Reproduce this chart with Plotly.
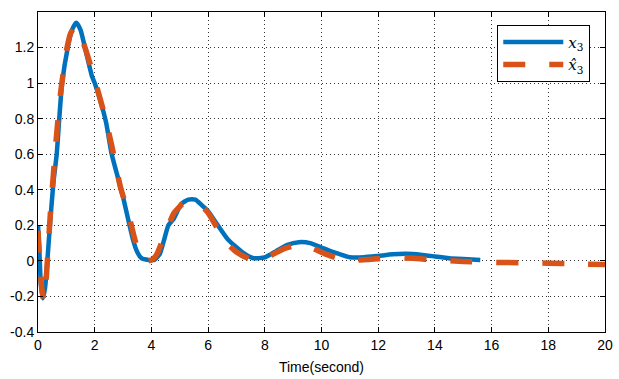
import plotly.graph_objects as go

# x3 (true state)
t_x3 = [0, 0.05, 0.1, 0.17, 0.25, 0.33, 0.42, 0.55, 0.66, 0.75, 0.85, 1.05, 1.2, 1.35, 1.5, 1.7,
        1.9, 2.0, 2.2, 2.4, 2.6, 2.8, 2.9, 3.0, 3.2, 3.35, 3.5, 3.65, 3.9, 4.1, 4.3, 4.45, 4.6,
        4.8, 5.05, 5.3, 5.55, 5.8, 6.0, 6.3, 6.7, 7.2, 7.6, 8.0, 8.4, 8.8, 9.2, 9.6, 10.0, 10.5,
        11.0, 11.5, 12.0, 12.5, 13.0, 13.5, 14.0, 14.5, 15.0, 15.6]
y_x3 = [0.2, 0.05, -0.13, -0.21, -0.15, 0.0, 0.2, 0.45, 0.6, 0.8, 1.0, 1.2, 1.3, 1.34, 1.3, 1.17,
        1.04, 1.0, 0.9, 0.78, 0.6, 0.48, 0.42, 0.36, 0.22, 0.12, 0.05, 0.015, 0.005, 0.005, 0.04,
        0.12, 0.2, 0.24, 0.32, 0.345, 0.345, 0.31, 0.28, 0.21, 0.12, 0.05, 0.015, 0.02, 0.055,
        0.09, 0.105, 0.1, 0.075, 0.045, 0.02, 0.02, 0.028, 0.037, 0.04, 0.035, 0.025, 0.015,
        0.01, 0.005]

# x3 hat (estimate)
t_x3h = [0, 0.1, 0.2, 0.28, 0.35, 0.45, 0.55, 0.65, 0.8, 1.0, 1.15, 1.32, 1.45, 1.7, 2.0, 2.3, 2.6,
         2.9, 3.2, 3.4, 3.55, 3.7, 3.9, 4.05, 4.2, 4.5, 4.8, 5.1, 5.4, 5.7, 6.0, 6.3, 6.6, 7.0,
         7.4, 7.7, 8.2, 8.7, 9.2, 9.7, 10.2, 10.7, 11.3, 12.0, 12.6, 13.2, 14.0, 15.0, 16.0, 17.0,
         18.0, 19.0, 20.0]
y_x3h = [0.17, -0.1, -0.225, -0.12, 0.05, 0.3, 0.5, 0.7, 0.95, 1.18, 1.28, 1.32, 1.29, 1.18, 1.02,
         0.85, 0.65, 0.42, 0.26, 0.13, 0.05, 0.01, 0.0, 0.01, 0.04, 0.16, 0.27, 0.32, 0.33, 0.32,
         0.27, 0.19, 0.11, 0.05, 0.015, 0.0, 0.03, 0.07, 0.09, 0.07, 0.035, 0.01, 0.005, 0.012,
         0.018, 0.015, 0.005, -0.003, -0.008, -0.01, -0.013, -0.017, -0.02]

x_ticks = list(range(0, 21, 2))
y_ticks = [-0.4, -0.2, 0, 0.2, 0.4, 0.6, 0.8, 1, 1.2]
y_tick_text = ["-0.4", "-0.2", "0", "0.2", "0.4", "0.6", "0.8", "1", "1.2"]

SANS = "Liberation Sans, Arial, Helvetica, sans-serif"

fig = go.Figure()
fig.add_trace(go.Scatter(
    x=t_x3, y=y_x3, mode="lines", name="<i>x</i><sub>3</sub>",
    line=dict(color="#0072BD", width=4.5, shape="spline", smoothing=0.5),
))
fig.add_trace(go.Scatter(
    x=t_x3h, y=y_x3h, mode="lines", name="<i>x̂</i><sub>3</sub>",
    line=dict(color="#D95319", width=5.5, dash="22px,24px", shape="spline", smoothing=0.5),
))

axis_common = dict(
    showline=True, linecolor="black", linewidth=1, mirror="ticks",
    ticks="inside", ticklen=5, tickcolor="black",
    showgrid=True, gridcolor="rgba(0,0,0,0.8)", griddash="1px,3px", gridwidth=1,
    zeroline=False,
    tickfont=dict(family=SANS, size=14, color="black"),
)

fig.update_layout(
    width=619, height=379,
    margin=dict(l=38, r=6, t=12, b=46),
    paper_bgcolor="white", plot_bgcolor="white",
    xaxis=dict(range=[0, 20], tickvals=x_ticks, ticklabeloverflow="allow",
               title=dict(text="Time(second)", standoff=10,
                          font=dict(family=SANS, size=14, color="black")),
               **axis_common),
    yaxis=dict(range=[-0.4, 1.4], tickvals=y_ticks, ticktext=y_tick_text, **axis_common),
    legend=dict(x=0.974, y=0.96, xanchor="right", yanchor="top",
                bgcolor="white", bordercolor="black", borderwidth=1,
                itemwidth=60, tracegroupgap=0,
                font=dict(family="DejaVu Serif, Liberation Serif, serif", size=15, color="black")),
    showlegend=True,
)

fig.write_html("out.html")
